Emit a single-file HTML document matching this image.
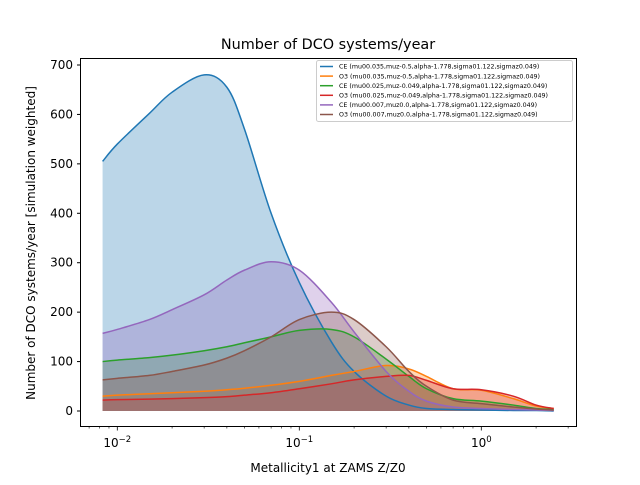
<!DOCTYPE html>
<html><head><meta charset="utf-8"><style>
body{margin:0;background:#fff;}
svg text{font-family:"DejaVu Sans","Liberation Sans",sans-serif;}
</style></head><body>
<svg id="chart" width="640" height="480" xmlns="http://www.w3.org/2000/svg">
<rect width="640" height="480" fill="#fff"/>
<g id="plot"></g>
<rect x="80.5" y="58.5" width="496" height="368" fill="none" stroke="#000" stroke-width="1"/>
<g id="axes"></g>
<text x="328" y="49" font-size="14.4" text-anchor="middle">Number of DCO systems/year</text>
<text x="328" y="472" font-size="12" text-anchor="middle">Metallicity1 at ZAMS Z/Z0</text>
<text transform="translate(35,243) rotate(-90)" font-size="12" text-anchor="middle">Number of DCO systems/year [simulation weighted]</text>
<g id="legend"></g>
</svg>
<script>
const zValues=[0.0083,0.01,0.015,0.02,0.03,0.04,0.05,0.07,0.1,0.15,0.2,0.3,0.4,0.5,0.7,1.0,1.5,2.0,2.5];
const seriesLabels=["CE (mu00.035,muz-0.5,alpha-1.778,sigma01.122,sigmaz0.049)","O3 (mu00.035,muz-0.5,alpha-1.778,sigma01.122,sigmaz0.049)","CE (mu00.025,muz-0.049,alpha-1.778,sigma01.122,sigmaz0.049)","O3 (mu00.025,muz-0.049,alpha-1.778,sigma01.122,sigmaz0.049)","CE (mu00.007,muz0.0,alpha-1.778,sigma01.122,sigmaz0.049)","O3 (mu00.007,muz0.0,alpha-1.778,sigma01.122,sigmaz0.049)"];
const colors=["#1f77b4","#ff7f0e","#2ca02c","#d62728","#9467bd","#8c564b"];
const ce1=[505,540,602,645,680,655,570,400,260,140,80,30,12,5,3,2,1,1,0];
const o31=[30,32,35,37,40,43,46,52,60,72,80,92,85,70,45,42,25,10,5];
const ce2=[100,103,108,113,122,130,138,150,163,165,150,105,70,45,25,20,12,5,3];
const o32=[22,23,24,25,27,29,32,37,45,55,63,70,72,62,45,43,30,12,5];
const ce3=[157,165,185,205,235,265,285,302,285,220,160,80,40,20,8,5,3,2,1];
const o33=[63,66,72,80,93,107,122,150,185,200,185,130,80,50,22,15,8,4,2];
const yTicks=[0,100,200,300,400,500,600,700];
const xMajor=[-2,-1,0];
const series=[ce1,o31,ce2,o32,ce3,o33];
const X=z=>481.3+182*Math.log10(z);
const Y=v=>411-v*(346/700);
const NS="http://www.w3.org/2000/svg";
function mk(t,a,p){const e=document.createElementNS(NS,t);for(const k in a)e.setAttribute(k,a[k]);p.appendChild(e);return e;}
function smooth(pts){let d="M"+pts[0][0]+","+pts[0][1];for(let i=0;i<pts.length-1;i++){const p0=pts[Math.max(0,i-1)],p1=pts[i],p2=pts[i+1],p3=pts[Math.min(pts.length-1,i+2)];
const c1=[p1[0]+(p2[0]-p0[0])/6,p1[1]+(p2[1]-p0[1])/6],c2=[p2[0]-(p3[0]-p1[0])/6,p2[1]-(p3[1]-p1[1])/6];d+=" C"+c1+" "+c2+" "+p2;}return d;}
const plot=document.getElementById("plot");
series.forEach((s,i)=>{const pts=zValues.map((z,j)=>[X(z),Y(s[j])]);const d=smooth(pts);
const f=mk("path",{d:d+" L"+X(zValues[zValues.length-1])+","+Y(0)+" L"+X(zValues[0])+","+Y(0)+" Z",fill:colors[i],"fill-opacity":0.3,stroke:"none"},plot);

});
series.forEach((s,i)=>{const pts=zValues.map((z,j)=>[X(z),Y(s[j])]);
const l=mk("path",{d:smooth(pts),fill:"none",stroke:colors[i],"stroke-width":1.5},plot);

});
const ax=document.getElementById("axes");
yTicks.forEach(v=>{const y=Y(v);mk("line",{x1:80.5,x2:77,y1:y,y2:y,stroke:"#000"},ax);
const t=mk("text",{x:73,y:y+4,"font-size":12,"text-anchor":"end"},ax);t.textContent=v;

});
for(let e=-3;e<=0;e++)for(let m=1;m<10;m++){const x=481.3+182*(e+Math.log10(m));if(x<81||x>576)continue;
mk("line",{x1:x,x2:x,y1:426.5,y2:m==1?430.5:428.5,stroke:"#000","stroke-width":m==1?0.8:0.6},ax);}
xMajor.forEach(e=>{const x=481.3+182*e;const t=mk("text",{x:x,y:447,"font-size":12,"text-anchor":"middle"},ax);
t.innerHTML='10<tspan dy="-5" font-size="8.5">'+(e<0?'−'+(-e):e)+'</tspan>';

});
const lg=document.getElementById("legend");
mk("rect",{x:316.5,y:60.5,width:256,height:61,rx:2,fill:"#fff","fill-opacity":0.8,stroke:"#ccc"},lg);
seriesLabels.forEach((s,i)=>{const y=66.5+i*9.6;mk("line",{x1:320,x2:333,y1:y,y2:y,stroke:colors[i],"stroke-width":1.5},lg);
const t=mk("text",{x:339,y:y+2.2,"font-size":6.3},lg);t.textContent=s;

});
</script>
</body></html>
